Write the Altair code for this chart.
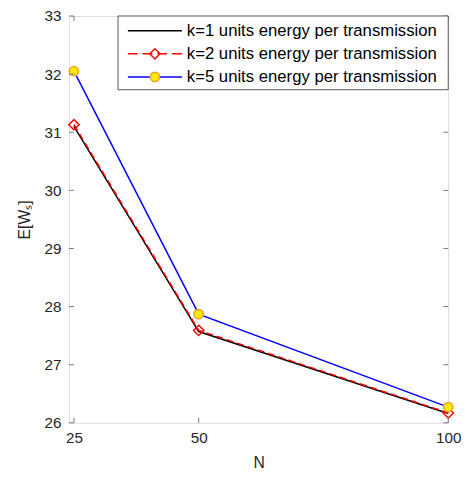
import altair as alt
import pandas as pd

N = [25, 50, 100]
k1 = [31.10, 27.57, 26.16]
k2 = [31.13, 27.59, 26.17]
k5 = [32.05, 27.87, 26.27]
series_names = ["k=1 units energy per transmission",
                "k=2 units energy per transmission",
                "k=5 units energy per transmission"]
x_ticks = [25, 50, 100]
y_ticks = [26, 27, 28, 29, 30, 31, 32, 33]

W, H = 386, 414
FONT = "Liberation Sans"
AX = "#777777"
TXT = "#262626"

df1 = pd.DataFrame({"N": N, "E": k1})
df2 = pd.DataFrame({"N": N, "E": k2})
df5 = pd.DataFrame({"N": N, "E": k5})

xs = alt.Scale(domain=[24, 100], nice=False, zero=False)
ys = alt.Scale(domain=[26, 33], nice=False, zero=False)

xax = alt.Axis(values=x_ticks, format="d", ticks=False, tickSize=0, domain=False, grid=False,
               labelFlush=False, labelOverlap=False,
               labelFont=FONT, labelFontSize=15.5, labelColor=TXT, labelPadding=8,
               titleFont=FONT, titleFontSize=16, titleFontWeight="normal",
               titleColor=TXT, titlePadding=9)
yax = alt.Axis(values=y_ticks, format="d", ticks=False, tickSize=0, domain=False, grid=False,
               labelFlush=False, labelOverlap=False,
               labelFont=FONT, labelFontSize=15.5, labelColor=TXT, labelPadding=8,
               titleFont=FONT, titleFontSize=16, titleFontWeight="normal",
               titleColor=TXT, titlePadding=12)

l1 = alt.Chart(df1).mark_line(color="black", strokeWidth=1.5).encode(
    x=alt.X("N:Q", scale=xs, axis=xax, title="N"),
    y=alt.Y("E:Q", scale=ys, axis=yax, title="E[Wₛ]"))

l2 = alt.Chart(df2).mark_line(color="#FF0000", strokeWidth=1.5, strokeDash=[7, 4]).encode(
    x=alt.X("N:Q", scale=xs), y=alt.Y("E:Q", scale=ys))
p2 = alt.Chart(df2).mark_point(shape="diamond", filled=False, color="#FF0000",
                               strokeWidth=1.5, size=110, opacity=1).encode(
    x=alt.X("N:Q", scale=xs), y=alt.Y("E:Q", scale=ys))

l5 = alt.Chart(df5).mark_line(color="#0000FF", strokeWidth=1.5).encode(
    x=alt.X("N:Q", scale=xs), y=alt.Y("E:Q", scale=ys))
p5 = alt.Chart(df5).mark_point(shape="circle", filled=True, fill="#FFE800",
                               stroke="#EFA020", strokeWidth=1.5, size=90, opacity=1).encode(
    x=alt.X("N:Q", scale=xs), y=alt.Y("E:Q", scale=ys))

# inward ticks
xt = pd.DataFrame({"t": x_ticks})
yt = pd.DataFrame({"t": y_ticks})
xtb = alt.Chart(xt).mark_rule(color=AX, strokeWidth=1).encode(
    x=alt.X("t:Q", scale=xs), y=alt.value(H), y2=alt.value(H - 5))
xtt = alt.Chart(xt).mark_rule(color=AX, strokeWidth=1).encode(
    x=alt.X("t:Q", scale=xs), y=alt.value(0), y2=alt.value(5))
ytl = alt.Chart(yt).mark_rule(color=AX, strokeWidth=1).encode(
    y=alt.Y("t:Q", scale=ys), x=alt.value(0), x2=alt.value(5))
ytr = alt.Chart(yt).mark_rule(color=AX, strokeWidth=1).encode(
    y=alt.Y("t:Q", scale=ys), x=alt.value(W - 5), x2=alt.value(W))

# legend
LX0, LX1, LY0, LY1 = 50, W, 0, 75
rows = [15, 38.5, 62]
leg_box = alt.Chart(pd.DataFrame({"a": [0]})).mark_rect(
    fill="white", stroke="#555555", strokeWidth=1).encode(
    x=alt.value(LX0), x2=alt.value(LX1), y=alt.value(LY0), y2=alt.value(LY1))

def leg_line(i, color, dash=None):
    kw = dict(color=color, strokeWidth=1.5)
    if dash:
        kw["strokeDash"] = dash
    return alt.Chart(pd.DataFrame({"a": [0]})).mark_rule(**kw).encode(
        x=alt.value(60), x2=alt.value(115), y=alt.value(rows[i]))

lg1 = leg_line(0, "black")
lg2 = leg_line(1, "#FF0000", [10, 5])
lg5 = leg_line(2, "#0000FF")
lm2 = alt.Chart(pd.DataFrame({"a": [0]})).mark_point(
    shape="diamond", filled=False, color="#FF0000", strokeWidth=1.5, size=110, opacity=1).encode(
    x=alt.value(87.5), y=alt.value(rows[1]))
lm5 = alt.Chart(pd.DataFrame({"a": [0]})).mark_point(
    shape="circle", filled=True, fill="#FFE800", stroke="#EFA020", strokeWidth=1.5,
    size=90, opacity=1).encode(x=alt.value(87.5), y=alt.value(rows[2]))
leg_txt = alt.Chart(pd.DataFrame({"label": series_names, "row": rows})).mark_text(
    align="left", baseline="middle", font=FONT, fontSize=17, color="black").encode(
    x=alt.value(120), y=alt.Y("row:Q", scale=None), text="label:N")

chart = alt.layer(l1, l2, p2, l5, p5, xtb, xtt, ytl, ytr,
                  leg_box, lg1, lg2, lg5, lm2, lm5, leg_txt).properties(
    width=W, height=H,
    autosize=alt.AutoSizeParams(type="none"),
    padding={"left": 62, "top": 4, "right": 13, "bottom": 50},
).configure_view(stroke=AX, strokeWidth=1).configure(background="white")

chart.save("out.html", embed_options={"renderer": "svg", "actions": False})
